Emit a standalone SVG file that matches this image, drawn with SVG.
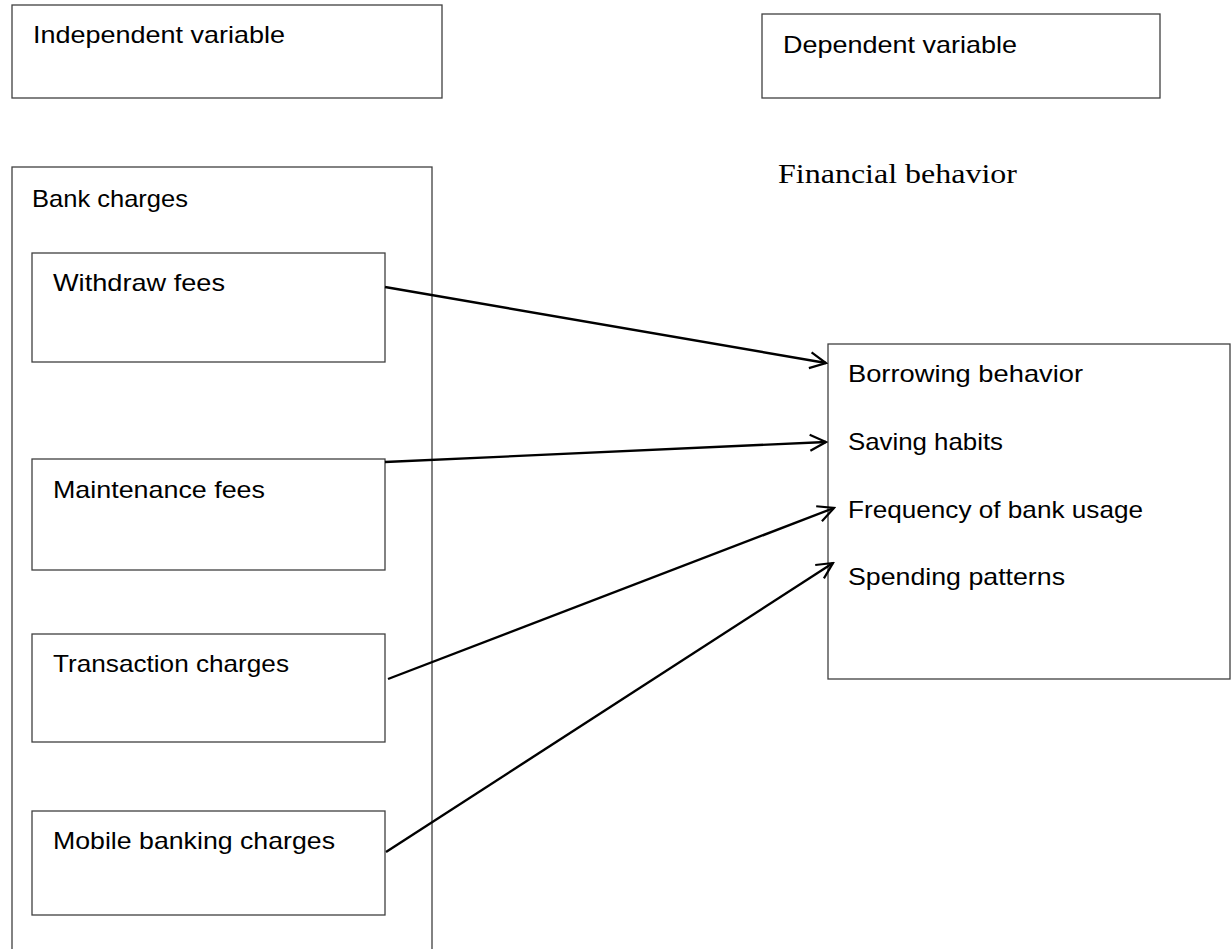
<svg xmlns="http://www.w3.org/2000/svg" width="1231" height="949" viewBox="0 0 1231 949">
<style>
.box{fill:#fff;stroke:#404040;stroke-width:1.3}
.t{font-family:"Liberation Sans",Arial,sans-serif;font-size:24px;fill:#000}
.s{font-family:"Liberation Serif","Times New Roman",serif;font-size:27px;fill:#000}
.c{stroke:#000;stroke-width:2.4;fill:none}
</style>
<defs>
<marker id="arr" viewBox="0 0 20 20" refX="18" refY="10" markerWidth="20" markerHeight="20" markerUnits="userSpaceOnUse" orient="auto">
<path d="M2,2 L18,10 L2,18" fill="none" stroke="#000" stroke-width="2.2"/>
</marker>
</defs>
<rect width="1231" height="949" fill="#fff"/>
<g id="independent">
<rect class="box" x="12" y="5" width="430" height="93"/>
<text class="t" x="33" y="43" textLength="252" lengthAdjust="spacingAndGlyphs">Independent variable</text>
</g>
<g id="dependent">
<rect class="box" x="762" y="14" width="398" height="84"/>
<text class="t" x="783" y="53" textLength="234" lengthAdjust="spacingAndGlyphs">Dependent variable</text>
</g>
<g id="financial-label">
<text class="s" x="778" y="183" textLength="239" lengthAdjust="spacingAndGlyphs">Financial behavior</text>
</g>
<g id="bank-charges">
<rect class="box" x="12" y="167" width="420" height="800"/>
<text class="t" x="32" y="207" textLength="156" lengthAdjust="spacingAndGlyphs">Bank charges</text>
</g>
<g id="withdraw">
<rect class="box" x="32" y="253" width="353" height="109"/>
<text class="t" x="53" y="291" textLength="172" lengthAdjust="spacingAndGlyphs">Withdraw fees</text>
</g>
<g id="maintenance">
<rect class="box" x="32" y="459" width="353" height="111"/>
<text class="t" x="53" y="498" textLength="212" lengthAdjust="spacingAndGlyphs">Maintenance fees</text>
</g>
<g id="transaction">
<rect class="box" x="32" y="634" width="353" height="108"/>
<text class="t" x="53" y="672" textLength="236" lengthAdjust="spacingAndGlyphs">Transaction charges</text>
</g>
<g id="mobile">
<rect class="box" x="32" y="811" width="353" height="104"/>
<text class="t" x="53" y="849" textLength="282" lengthAdjust="spacingAndGlyphs">Mobile banking charges</text>
</g>
<g id="behavior">
<rect class="box" x="828" y="344" width="402" height="335"/>
<text class="t" x="848" y="382" textLength="235" lengthAdjust="spacingAndGlyphs">Borrowing behavior</text>
<text class="t" x="848" y="450" textLength="155" lengthAdjust="spacingAndGlyphs">Saving habits</text>
<text class="t" x="848" y="518" textLength="295" lengthAdjust="spacingAndGlyphs">Frequency of bank usage</text>
<text class="t" x="848" y="585" textLength="217" lengthAdjust="spacingAndGlyphs">Spending patterns</text>
</g>
<g id="connectors">
<line class="c" x1="385" y1="287" x2="826" y2="363" marker-end="url(#arr)"/>
<line class="c" x1="385" y1="462" x2="826" y2="442" marker-end="url(#arr)"/>
<line class="c" x1="388" y1="679" x2="834" y2="508" marker-end="url(#arr)"/>
<line class="c" x1="386" y1="852" x2="833" y2="563" marker-end="url(#arr)"/>
</g>
</svg>
